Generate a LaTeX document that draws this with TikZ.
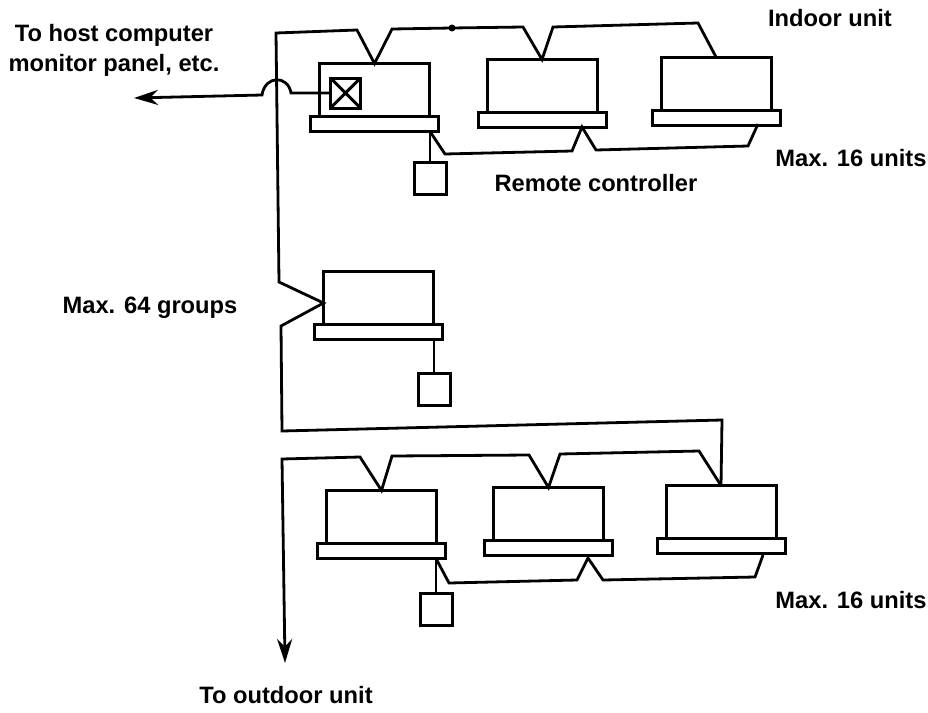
\documentclass[tikz,border=0pt]{standalone}
\usepackage{fontspec}
\setmainfont{Liberation Sans}
\usetikzlibrary{arrows.meta,positioning,calc}

\begin{document}
\begin{tikzpicture}[
  x=1pt, y=-1pt,
  body/.style={draw, line width=3pt, fill=white, outer sep=0pt, inner sep=0pt, minimum width=110pt, minimum height=53pt},
  base/.style={draw, line width=3pt, fill=white, outer sep=0pt, inner sep=0pt, minimum width=128pt, minimum height=15pt},
  remote/.style={draw, line width=3pt, outer sep=0pt, inner sep=0pt, minimum size=32pt},
  lab/.style={font=\fontsize{23.7}{30}\selectfont\bfseries, align=center, inner sep=0pt},
  wire/.style={line width=2.8pt, line join=miter},
  arr/.style={wire, -{Stealth[length=24pt, width=15pt]}},
]
  \useasboundingbox (0,0) rectangle (928,712);

  % Top group
  \node[body] (bodyA) at (374.5,90) {};
  \node[base, below=0pt of bodyA] (baseA) {};
  \node[body] (bodyB) at (542,86) {};
  \node[base, below=0pt of bodyB] (baseB) {};
  \node[body] (bodyC) at (716,83.5) {};
  \node[base, below=0pt of bodyC] (baseC) {};
  \node[remote] (remA) at (430,178) {};
  \node[remote, minimum size=30pt] (valve) at (345.5,93) {};

  % Middle group
  \node[body] (bodyD) at (378.5,298) {};
  \node[base, below=0pt of bodyD] (baseD) {};
  \node[remote] (remD) at (434,389) {};

  % Bottom group
  \node[body] (bodyE) at (381.5,517) {};
  \node[base, below=0pt of bodyE] (baseE) {};
  \node[body] (bodyF) at (548.5,514) {};
  \node[base, below=0pt of bodyF] (baseF) {};
  \node[body] (bodyG) at (721,512) {};
  \node[base, below=0pt of bodyG] (baseG) {};
  \node[remote] (remE) at (436,609) {};

  % Free ends
  \coordinate (hostEnd) at (134,98);
  \coordinate (outdoorEnd) at (285,663);
  \coordinate (tapB) at (582,127);
  \coordinate (tapC) at (758,124);
  \coordinate (tapF) at (588,558);
  \coordinate (tapG) at (763,555);
  \node[circle, fill, inner sep=0pt, minimum size=7pt] (joint) at (452,28) {};

  % Main line
  \draw[wire] (bodyC.north) -- (698,23) -- (553,27) -- (bodyB.north) -- (523,27) -- (joint.center)
    -- (392,29) -- (bodyA.north) -- (357,30) -- (276,33) -- (279,282) -- ([yshift=-5pt]bodyD.west)
    -- (281,326) -- (282,431) -- (722,420) -- (bodyG.north);
  \draw[arr] (bodyG.north) -- (699,451) -- (560,454) -- (bodyF.north) -- (529,455) -- (392,456)
    -- (bodyE.north) -- (360,457) -- (282,459) -- (outdoorEnd);

  % Host link
  \draw[arr] (valve.west) -- (291,93) .. controls (288,75) and (265,75) .. (262,95) -- (hostEnd);
  \draw[line width=3pt] (valve.north west) -- (valve.south east) (valve.north east) -- (valve.south west);

  % Remote controllers
  \draw[wire] (remA.north) -- (remA.north |- baseA.south);
  \draw[wire] (remD.north) -- (remD.north |- baseD.south);
  \draw[wire] (remE.north) -- (remE.north |- baseE.south);
  \draw[wire] (remA.north |- baseA.south) -- (445,154) -- (572,151) -- (tapB) -- (596,150) -- (748,146) -- (tapC);
  \draw[wire] (remE.north |- baseE.south) -- (449,583) -- (577,580) -- (tapF) -- (603,580) -- (755,577) -- (tapG);

  % Annotations
  \node[lab] (hostLab) at (114,50) {To host computer\\monitor panel, etc.};
  \node[lab] (indoorLab) at (830,18) {Indoor unit};
  \node[lab] (maxTop) at (851,158) {Max. 16 units};
  \node[lab] (remLab) at (596,183) {Remote controller};
  \node[lab] (groupLab) at (150,308) {Max. 64 groups};
  \node[lab] (maxBot) at (851,600) {Max. 16 units};
  \node[lab] (outdoorLab) at (286,695) {To outdoor unit};
\end{tikzpicture}
\end{document}
